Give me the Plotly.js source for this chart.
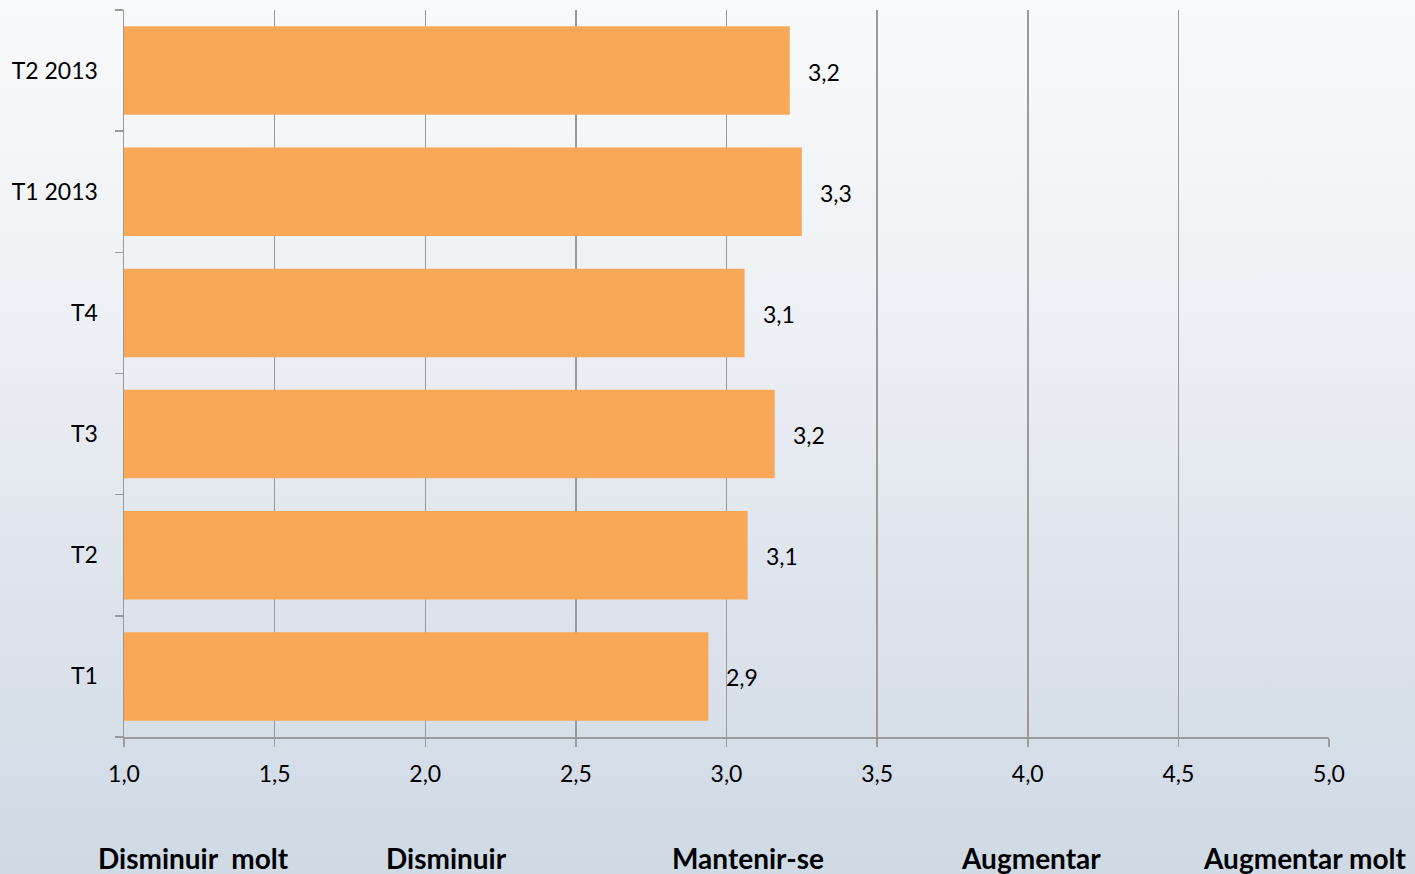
<!DOCTYPE html>
<html>
<head>
<meta charset="utf-8">
<script src="https://cdn.plot.ly/plotly-3.0.1.min.js"></script>
<style>
  html, body { margin: 0; padding: 0; }
  body { width: 1415px; height: 874px; background: linear-gradient(to bottom, #f9fafb 0%, #eef1f5 35%, #dde3ec 70%, #cfdae5 100%); }
  #chart { width: 1415px; height: 874px; }
</style>
</head>
<body>
<div id="chart"></div>
<script>
const categories = ['T1', 'T2', 'T3', 'T4', 'T1 2013', 'T2 2013'];
const values = [2.94, 3.07, 3.16, 3.06, 3.25, 3.21];
const scaleLabels = ['Disminuir\u00a0 molt', 'Disminuir', 'Mantenir-se', 'Augmentar', 'Augmentar molt'];
const scaleLabelX = [1.23, 2.07, 3.07, 4.01, 4.92];

const fmt = v => v.toFixed(1).replace('.', ',');
const font = 'Lato, "Open Sans", sans-serif';

const trace = {
  type: 'bar',
  orientation: 'h',
  x: values,
  y: categories,
  marker: { color: '#F9A857', line: { width: 0 } },
  hoverinfo: 'none'
};

const annotations = values.map((v, i) => ({
  x: v, y: categories[i], xref: 'x', yref: 'y',
  text: fmt(v), showarrow: false, xanchor: 'left', xshift: 16, yshift: -1,
  font: { family: font, size: 23, color: '#000' }
})).concat(scaleLabels.map((t, i) => ({
  x: scaleLabelX[i], y: 0, xref: 'x', yref: 'paper', yanchor: 'top', yshift: -102,
  text: '<b>' + t + '</b>', showarrow: false, xanchor: 'center',
  font: { family: font, size: 28, color: '#000' }
})));

const layout = {
  width: 1415, height: 874,
  margin: { l: 124, r: 86, t: 10, b: 137, pad: 0 },
  paper_bgcolor: 'rgba(0,0,0,0)',
  plot_bgcolor: 'rgba(0,0,0,0)',
  separators: ',.',
  showlegend: false,
  bargap: 0.27,
  font: { family: font, size: 23, color: '#000' },
  xaxis: {
    range: [1, 5], dtick: 0.5, tick0: 1, tickformat: '.1f',
    showgrid: true, gridcolor: '#9a9a9a', gridwidth: 1.5,
    showline: true, linecolor: '#9a9a9a', linewidth: 1.5,
    ticks: 'outside', ticklen: 8, tickcolor: '#9a9a9a', tickwidth: 1.5,
    ticklabelstandoff: 8, zeroline: false, fixedrange: true
  },
  yaxis: {
    type: 'category', categoryorder: 'array', categoryarray: categories,
    range: [-0.5, 5.5],
    showgrid: false, showline: true, linecolor: '#9a9a9a', linewidth: 1.5,
    ticks: 'outside', tickson: 'boundaries', ticklen: 8, tickcolor: '#9a9a9a', tickwidth: 1.5,
    ticklabelstandoff: 20, fixedrange: true
  },
  annotations: annotations
};

Plotly.newPlot('chart', [trace], layout, { displayModeBar: false, staticPlot: true });
</script>
</body>
</html>
